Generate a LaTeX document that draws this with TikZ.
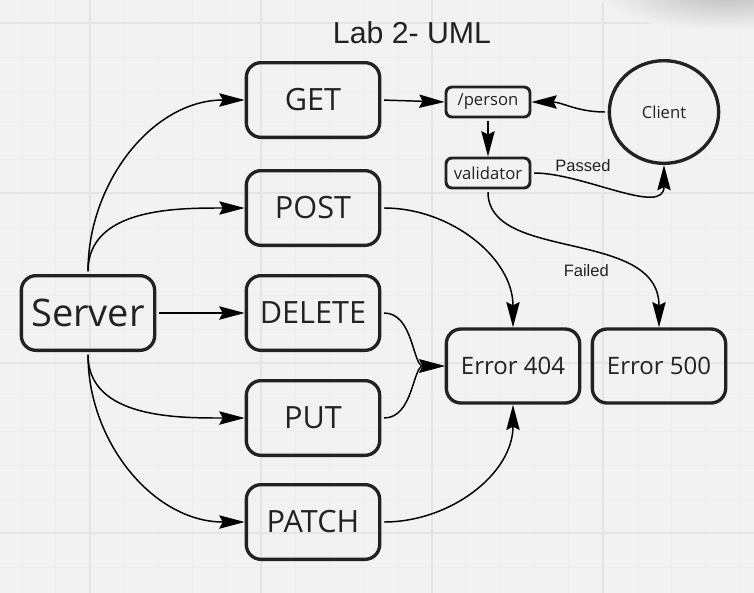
\documentclass[tikz,border=0pt]{standalone}
\usepackage{fontspec}
\setmainfont{Open Sans}
\newfontfamily\arialfont{Liberation Sans}
\usetikzlibrary{arrows.meta,shapes.geometric}

\definecolor{bgcol}{HTML}{F2F2F2}
\definecolor{gridmajor}{HTML}{E4E4E4}
\definecolor{gridminor}{HTML}{EEEEEE}
\definecolor{ink}{HTML}{222222}

\tikzset{
  bigbox/.style={draw=ink, line width=2.5pt, rounded corners=11pt,
    minimum width=100pt, minimum height=56pt, text=ink,
    font=\fontsize{23}{26}\selectfont},
  errbox/.style={bigbox, minimum height=55.5pt, font=\fontsize{18}{20}\selectfont},
  smallbox/.style={draw=ink, line width=2.2pt, rounded corners=4.5pt,
    minimum width=63pt, minimum height=22.5pt, inner sep=1pt, text=ink,
    font=\fontsize{12.5}{14}\selectfont},
  clientnode/.style={ellipse, draw=ink, line width=2.5pt, minimum width=82pt,
    minimum height=77pt, text=ink, font=\fontsize{12.5}{14}\selectfont},
  link/.style={draw=black, line width=1.1pt, shorten <=2pt,
    -{Stealth[length=19pt,width=10pt,inset=2.5pt]}},
  edgelabel/.style={text=ink, font=\arialfont\fontsize{12.4}{14}\selectfont}
}

\begin{document}
\begin{tikzpicture}[x=0.75pt,y=0.75pt]
\useasboundingbox (0,0) rectangle (754,-593);
\clip (0,0) rectangle (754,-593);
\fill[bgcol] (0,0) rectangle (754,-593);
% grid
\foreach \i in {0,...,21} {
  \draw[gridminor, line width=0.6pt] ({21.6+34.2*\i},0) -- ++(0,-593);
}
\foreach \i in {0,...,17} {
  \draw[gridminor, line width=0.6pt] (0,{-23-34*\i+34}) -- ++(754,0);
}
\foreach \gx in {90,261,432,603} {
  \draw[gridmajor, line width=0.8pt] (\gx,0) -- ++(0,-593);
}
\foreach \gy in {23,193,363,533} {
  \draw[gridmajor, line width=0.8pt] (0,-\gy) -- ++(754,0);
}
% shadow, top right
\shade[inner color=black!25, outer color=bgcol] (725,6) ellipse (125 and 36);

\node[text=ink, font=\arialfont\fontsize{22.7}{26}\selectfont] (title) at (412,-33) {Lab 2- UML};

\node[bigbox, font=\fontsize{28.5}{32}\selectfont] (server) at (88,-313) {Server};
\node[bigbox] (get) at (313,-100) {GET};
\node[bigbox] (post) at (313,-208) {POST};
\node[bigbox] (delete) at (313,-313) {DELETE};
\node[bigbox] (put) at (313,-418) {PUT};
\node[bigbox] (patch) at (313,-522) {PATCH};

\node[smallbox] (person) at (488,-102) {/person};
\node[smallbox] (validator) at (488,-173) {validator};
\node[clientnode] (client) at (664,-112) {Client};

\node[errbox] (err404) at (513,-366) {Error 404};
\node[errbox] (err500) at (659,-366) {Error 500};

% server routes
\draw[link] (server.north) to[out=90,in=180] (get.west);
\draw[link] (server.north) to[out=90,in=180] (post.west);
\draw[link] (server.east) -- (delete.west);
\draw[link] (server.south) to[out=-90,in=180] (put.west);
\draw[link] (server.south) to[out=-90,in=180] (patch.west);

% request flow
\draw[link] (get.east) -- (person.west);
\draw[link] (client.west) to[out=180,in=0] (person.east);
\draw[link] (person.south) -- (validator.north);
\draw[link] (validator.east) to[out=0,in=-90]
  node[edgelabel, pos=0.3, above=3pt] {Passed} (client.south);
\draw[link] (validator.south) to[out=-90,in=90,out looseness=0.85,in looseness=1.16]
  node[edgelabel, pos=0.55, below=5pt] {Failed} (err500.north);

% errors
\draw[link] (post.east) to[out=0,in=90] (err404.north);
\draw[link] (delete.east) to[out=0,in=180] (err404.west);
\draw[link] (put.east) to[out=0,in=180] (err404.west);
\draw[link] (patch.east) to[out=0,in=-90] (err404.south);
\end{tikzpicture}
\end{document}
